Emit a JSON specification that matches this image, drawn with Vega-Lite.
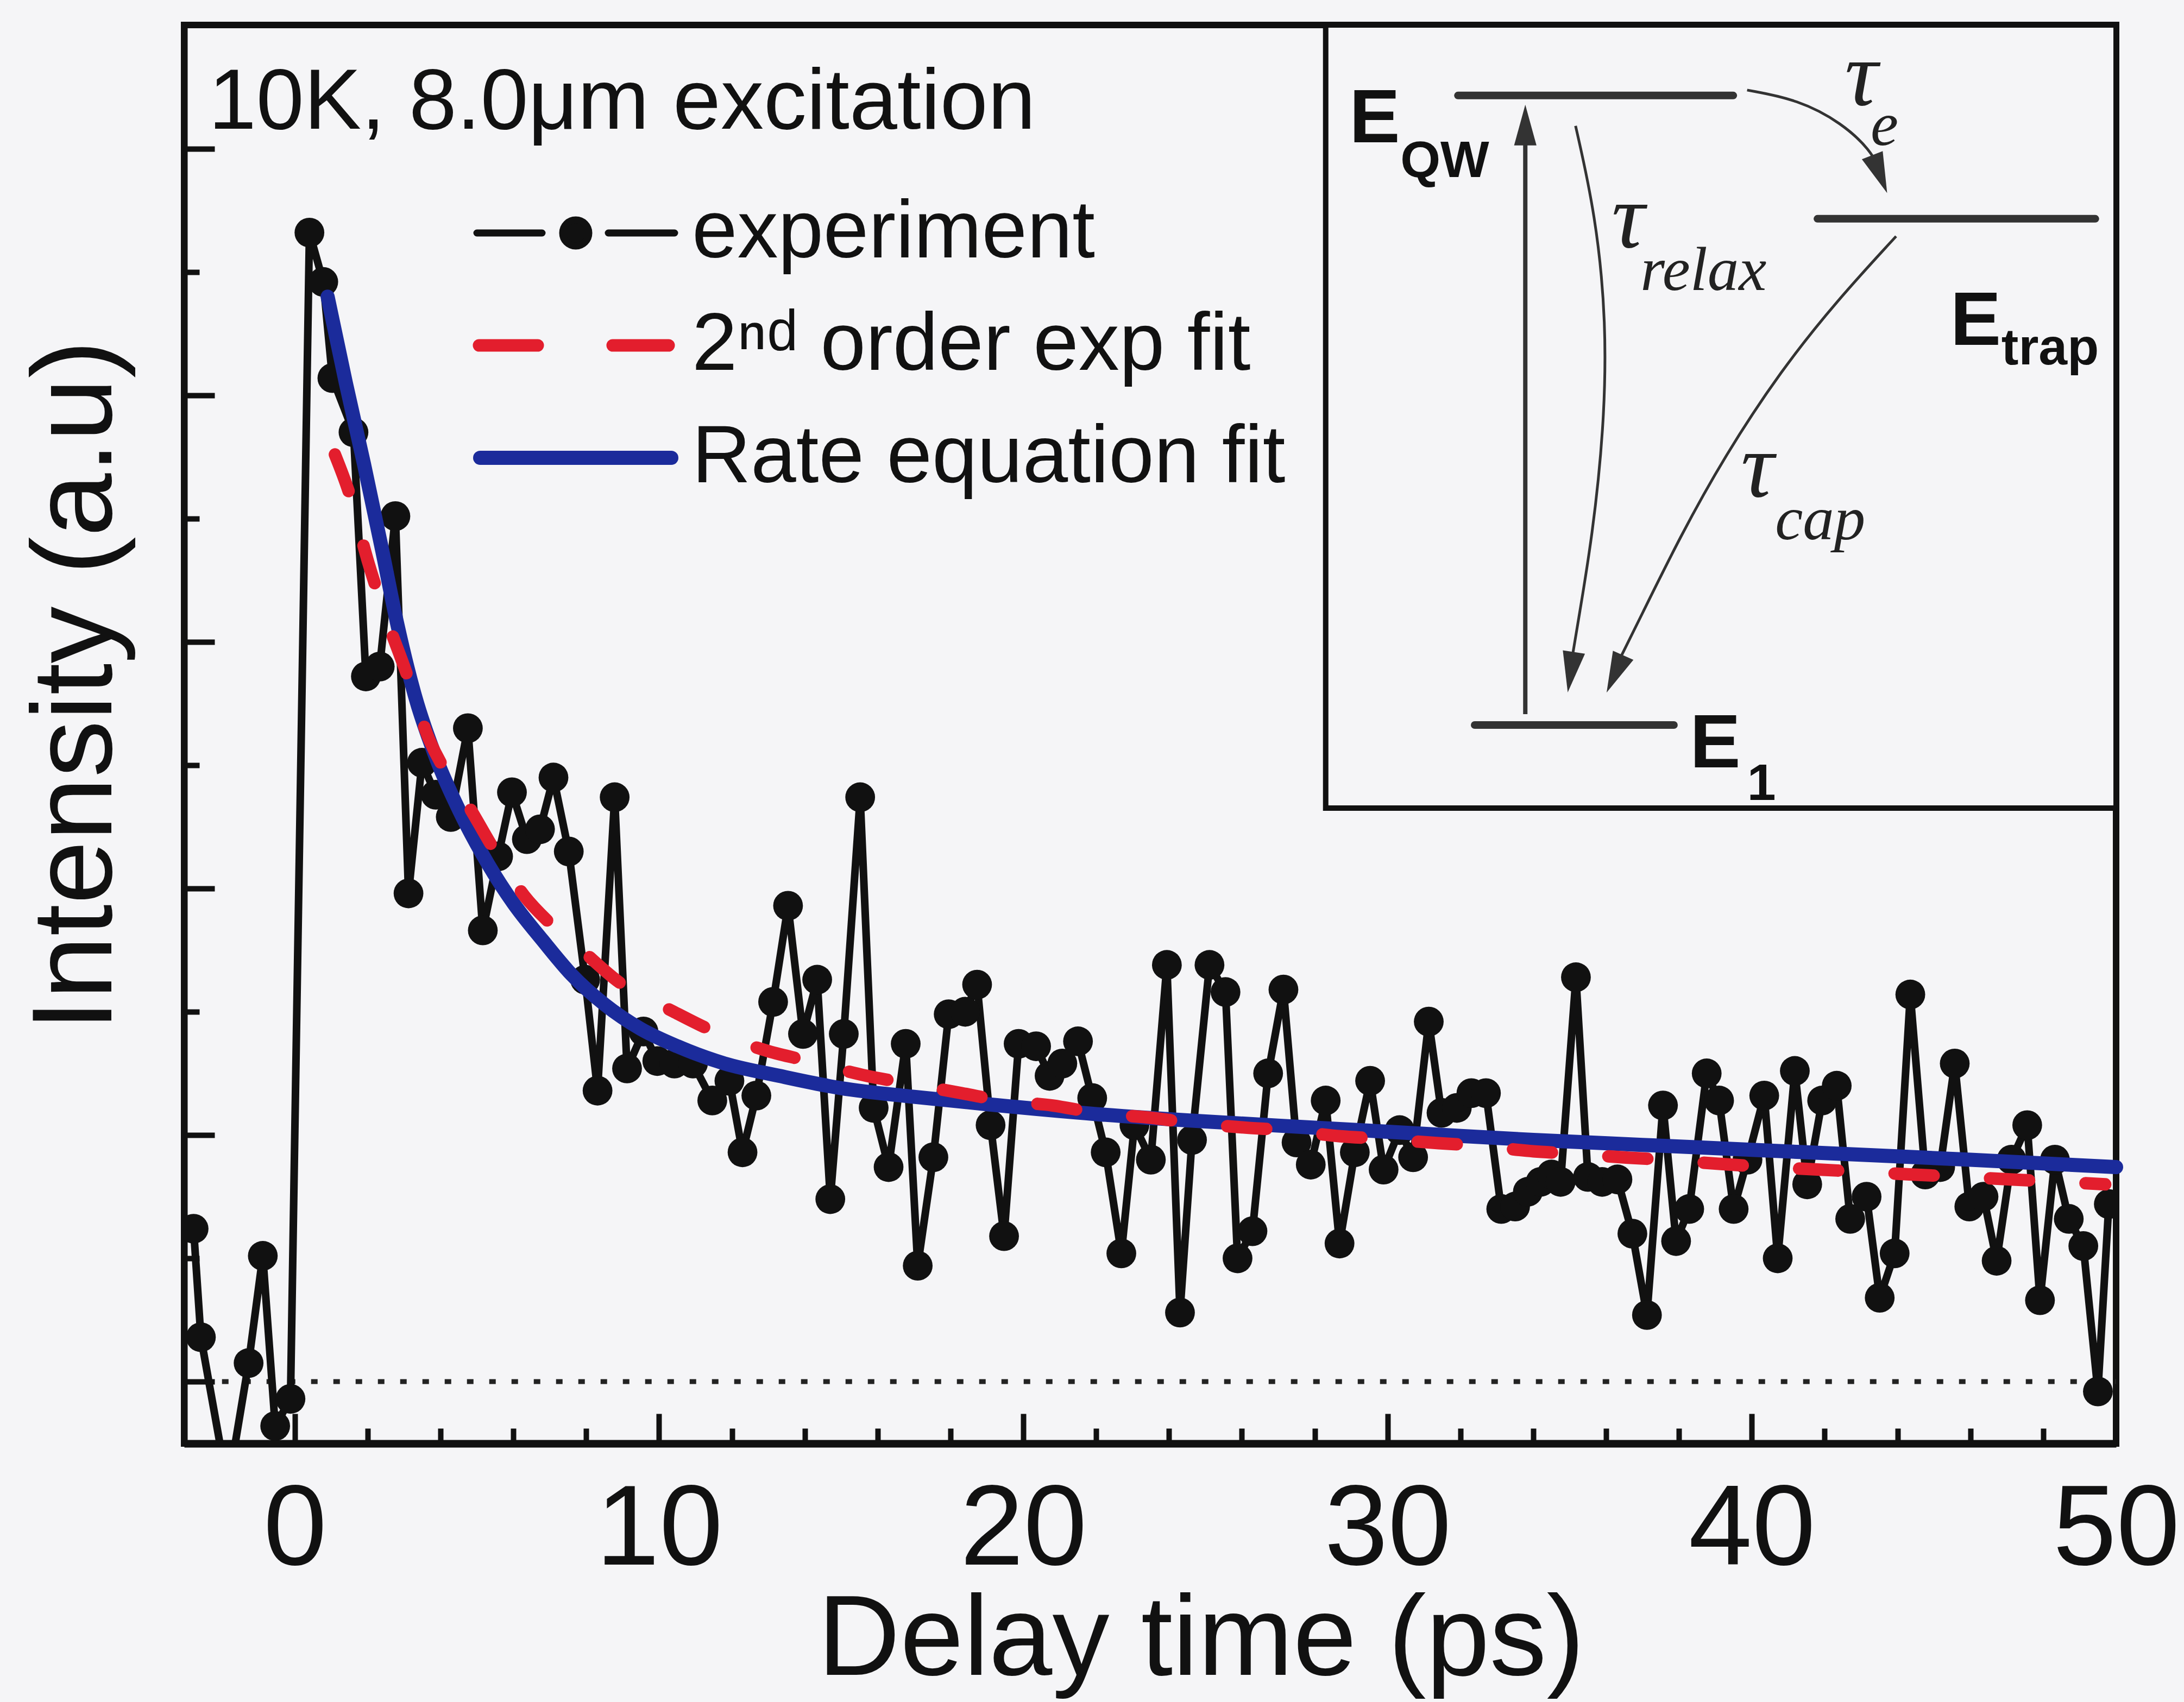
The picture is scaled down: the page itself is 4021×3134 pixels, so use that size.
{
  "$schema": "https://vega.github.io/schema/vega-lite/v6.json",
  "width": 3557,
  "height": 2612,
  "autosize": {"type": "none"},
  "padding": {"left": 339, "top": 46, "right": 125, "bottom": 476},
  "background": "#f5f5f7",
  "config": {
    "font": "Liberation Sans",
    "view": {"stroke": "#111111", "strokeWidth": 12},
    "axis": {"grid": false}
  },
  "title": {
    "text": "10K, 8.0μm excitation",
    "anchor": "start",
    "frame": "group",
    "orient": "top",
    "offset": -354,
    "dx": 45,
    "fontSize": 158,
    "fontWeight": "normal",
    "font": "Liberation Sans",
    "color": "#111111",
    "baseline": "alphabetic"
  },
  "datasets": {
    "exp": [
      {"t": -2.78, "v": 0.62}, {"t": -2.58, "v": 0.18}, {"t": -1.84, "v": -0.43}, {"t": -1.27, "v": 0.075}, {"t": -0.88, "v": 0.51}, {"t": -0.54, "v": -0.18}, {"t": -0.12, "v": -0.07},
      {"t": 0.40, "v": 4.66}, {"t": 0.78, "v": 4.46}, {"t": 1.03, "v": 4.07}, {"t": 1.61, "v": 3.85}, {"t": 1.95, "v": 2.86}, {"t": 2.33, "v": 2.90}, {"t": 2.76, "v": 3.51}, {"t": 3.12, "v": 1.98}, {"t": 3.49, "v": 2.51}, {"t": 3.87, "v": 2.38}, {"t": 4.28, "v": 2.29}, {"t": 4.75, "v": 2.65}, {"t": 5.16, "v": 1.83}, {"t": 5.58, "v": 2.13}, {"t": 5.96, "v": 2.39}, {"t": 6.37, "v": 2.20}, {"t": 6.73, "v": 2.24}, {"t": 7.10, "v": 2.45}, {"t": 7.52, "v": 2.15}, {"t": 7.97, "v": 1.63}, {"t": 8.31, "v": 1.18}, {"t": 8.78, "v": 2.37}, {"t": 9.12, "v": 1.27}, {"t": 9.57, "v": 1.42}, {"t": 9.95, "v": 1.30},
      {"t": 10.42, "v": 1.29}, {"t": 10.93, "v": 1.29}, {"t": 11.46, "v": 1.14}, {"t": 11.93, "v": 1.22}, {"t": 12.29, "v": 0.93}, {"t": 12.67, "v": 1.16}, {"t": 13.13, "v": 1.54}, {"t": 13.54, "v": 1.93}, {"t": 13.95, "v": 1.41}, {"t": 14.34, "v": 1.63}, {"t": 14.70, "v": 0.74}, {"t": 15.07, "v": 1.41}, {"t": 15.52, "v": 2.37}, {"t": 15.89, "v": 1.11}, {"t": 16.30, "v": 0.87}, {"t": 16.77, "v": 1.37}, {"t": 17.10, "v": 0.47}, {"t": 17.53, "v": 0.91}, {"t": 17.95, "v": 1.49}, {"t": 18.40, "v": 1.50}, {"t": 18.73, "v": 1.61}, {"t": 19.10, "v": 1.04}, {"t": 19.47, "v": 0.59}, {"t": 19.87, "v": 1.37},
      {"t": 20.35, "v": 1.36}, {"t": 20.72, "v": 1.24}, {"t": 21.07, "v": 1.29}, {"t": 21.50, "v": 1.38}, {"t": 21.89, "v": 1.15}, {"t": 22.26, "v": 0.93}, {"t": 22.69, "v": 0.52}, {"t": 23.05, "v": 1.04}, {"t": 23.50, "v": 0.90}, {"t": 23.94, "v": 1.69}, {"t": 24.30, "v": 0.28}, {"t": 24.63, "v": 0.98}, {"t": 25.11, "v": 1.69}, {"t": 25.55, "v": 1.58}, {"t": 25.88, "v": 0.50}, {"t": 26.29, "v": 0.61}, {"t": 26.72, "v": 1.25}, {"t": 27.14, "v": 1.59}, {"t": 27.50, "v": 0.97}, {"t": 27.89, "v": 0.88}, {"t": 28.30, "v": 1.14}, {"t": 28.68, "v": 0.56}, {"t": 29.10, "v": 0.93}, {"t": 29.52, "v": 1.22}, {"t": 29.89, "v": 0.86},
      {"t": 30.33, "v": 1.02}, {"t": 30.70, "v": 0.91}, {"t": 31.13, "v": 1.46}, {"t": 31.48, "v": 1.09}, {"t": 31.90, "v": 1.11}, {"t": 32.30, "v": 1.17}, {"t": 32.70, "v": 1.17}, {"t": 33.12, "v": 0.70}, {"t": 33.50, "v": 0.71}, {"t": 33.85, "v": 0.77}, {"t": 34.20, "v": 0.81}, {"t": 34.50, "v": 0.84}, {"t": 34.75, "v": 0.81}, {"t": 35.17, "v": 1.64}, {"t": 35.50, "v": 0.83}, {"t": 35.89, "v": 0.81}, {"t": 36.31, "v": 0.82}, {"t": 36.72, "v": 0.60}, {"t": 37.12, "v": 0.27}, {"t": 37.56, "v": 1.12}, {"t": 37.92, "v": 0.57}, {"t": 38.28, "v": 0.70}, {"t": 38.76, "v": 1.25}, {"t": 39.10, "v": 1.14}, {"t": 39.50, "v": 0.70}, {"t": 39.88, "v": 0.90},
      {"t": 40.34, "v": 1.16}, {"t": 40.71, "v": 0.50}, {"t": 41.18, "v": 1.26}, {"t": 41.52, "v": 0.80}, {"t": 41.93, "v": 1.14}, {"t": 42.33, "v": 1.20}, {"t": 42.70, "v": 0.66}, {"t": 43.15, "v": 0.75}, {"t": 43.51, "v": 0.34}, {"t": 43.92, "v": 0.52}, {"t": 44.35, "v": 1.57}, {"t": 44.76, "v": 0.84}, {"t": 45.17, "v": 0.87}, {"t": 45.57, "v": 1.29}, {"t": 45.97, "v": 0.71}, {"t": 46.36, "v": 0.75}, {"t": 46.72, "v": 0.49}, {"t": 47.13, "v": 0.90}, {"t": 47.56, "v": 1.04}, {"t": 47.91, "v": 0.33}, {"t": 48.32, "v": 0.90}, {"t": 48.70, "v": 0.66}, {"t": 49.10, "v": 0.55}, {"t": 49.50, "v": -0.04}, {"t": 49.80, "v": 0.72}
    ],
    "rate": [
      {"t": 0.9, "v": 4.4}, {"t": 1.4, "v": 4.05}, {"t": 1.9, "v": 3.72}, {"t": 2.4, "v": 3.37}, {"t": 2.8, "v": 3.08}, {"t": 3.3, "v": 2.78}, {"t": 3.9, "v": 2.52}, {"t": 4.5, "v": 2.32}, {"t": 5.3, "v": 2.1}, {"t": 6.0, "v": 1.94}, {"t": 6.8, "v": 1.79}, {"t": 7.6, "v": 1.65}, {"t": 8.5, "v": 1.53}, {"t": 9.5, "v": 1.43}, {"t": 10.5, "v": 1.36}, {"t": 11.8, "v": 1.29}, {"t": 13.3, "v": 1.24}, {"t": 15, "v": 1.19}, {"t": 17, "v": 1.155}, {"t": 19, "v": 1.125}, {"t": 22, "v": 1.085}, {"t": 25, "v": 1.055}, {"t": 28, "v": 1.03}, {"t": 31, "v": 1.005}, {"t": 34, "v": 0.98}, {"t": 37, "v": 0.96}, {"t": 40, "v": 0.94}, {"t": 43, "v": 0.92}, {"t": 46, "v": 0.9}, {"t": 50, "v": 0.87}
    ],
    "fit2": [
      {"t": 1.1, "v": 3.76}, {"t": 1.5, "v": 3.6}, {"t": 2.0, "v": 3.33}, {"t": 2.5, "v": 3.1}, {"t": 3.0, "v": 2.9}, {"t": 3.7, "v": 2.6}, {"t": 4.2, "v": 2.46}, {"t": 4.7, "v": 2.35}, {"t": 5.5, "v": 2.15}, {"t": 6.3, "v": 1.97}, {"t": 7.0, "v": 1.86}, {"t": 7.8, "v": 1.76}, {"t": 8.9, "v": 1.62}, {"t": 10.4, "v": 1.5}, {"t": 11.5, "v": 1.42}, {"t": 13.0, "v": 1.34}, {"t": 14.1, "v": 1.3}, {"t": 15.7, "v": 1.24}, {"t": 16.8, "v": 1.21}, {"t": 18.3, "v": 1.17}, {"t": 19.4, "v": 1.14}, {"t": 20.8, "v": 1.12}, {"t": 22, "v": 1.09}, {"t": 23.5, "v": 1.07}, {"t": 24.6, "v": 1.05}, {"t": 26.1, "v": 1.03}, {"t": 27.2, "v": 1.02}, {"t": 28.7, "v": 0.995}, {"t": 29.8, "v": 0.985}, {"t": 31.4, "v": 0.967}, {"t": 32.4, "v": 0.958}, {"t": 34, "v": 0.934}, {"t": 35, "v": 0.925}, {"t": 36.6, "v": 0.908}, {"t": 37.6, "v": 0.9}, {"t": 39.2, "v": 0.882}, {"t": 40.3, "v": 0.872}, {"t": 41.8, "v": 0.86}, {"t": 42.9, "v": 0.852}, {"t": 44.4, "v": 0.84}, {"t": 45.5, "v": 0.832}, {"t": 47.1, "v": 0.82}, {"t": 48.2, "v": 0.812}, {"t": 49.7, "v": 0.8}
    ],
    "baseline": [{"t": -2.0, "v": 0}, {"t": 50, "v": 0}],
    "insetBox": [{"t": 28.30, "t2": 50, "v": 2.326, "v2": 5.502}],
    "levels": [
      {"name": "EQW", "t": 31.93, "t2": 39.49, "v": 5.216},
      {"name": "Etrap", "t": 41.80, "t2": 49.43, "v": 4.716},
      {"name": "E1", "t": 32.39, "t2": 37.86, "v": 2.663}
    ],
    "shaft": [{"t": 33.78, "v": 2.707, "v2": 5.05}],
    "curves": [
      {"path": "relax", "i": 0, "t": 35.16, "v": 5.093}, {"path": "relax", "i": 1, "t": 35.71, "v": 4.733}, {"path": "relax", "i": 2, "t": 36.01, "v": 4.297}, {"path": "relax", "i": 3, "t": 35.94, "v": 3.861}, {"path": "relax", "i": 4, "t": 35.62, "v": 3.427}, {"path": "relax", "i": 5, "t": 35.25, "v": 3.099}, {"path": "relax", "i": 6, "t": 35.06, "v": 2.93},
      {"path": "cap", "i": 0, "t": 43.96, "v": 4.645}, {"path": "cap", "i": 1, "t": 42.33, "v": 4.383}, {"path": "cap", "i": 2, "t": 40.80, "v": 4.101}, {"path": "cap", "i": 3, "t": 39.25, "v": 3.753}, {"path": "cap", "i": 4, "t": 38.03, "v": 3.427}, {"path": "cap", "i": 5, "t": 36.94, "v": 3.099}, {"path": "cap", "i": 6, "t": 36.27, "v": 2.90},
      {"path": "te", "i": 0, "t": 39.87, "v": 5.238}, {"path": "te", "i": 1, "t": 41.26, "v": 5.200}, {"path": "te", "i": 2, "t": 42.48, "v": 5.104}, {"path": "te", "i": 3, "t": 43.26, "v": 4.993}, {"path": "te", "i": 4, "t": 43.50, "v": 4.92}
    ],
    "heads": [
      {"name": "up", "t": 33.78, "v": 5.096},
      {"name": "relax", "t": 35.03, "v": 2.877},
      {"name": "cap", "t": 36.24, "v": 2.870},
      {"name": "te", "t": 43.51, "v": 4.897}
    ],
    "bigE": [
      {"s": "E", "t": 28.95, "v": 5.026},
      {"s": "E", "t": 45.45, "v": 4.205},
      {"s": "E", "t": 38.30, "v": 2.491}
    ],
    "subE": [
      {"s": "QW", "t": 30.35, "v": 4.885},
      {"s": "trap", "t": 46.85, "v": 4.125},
      {"s": "1", "t": 39.87, "v": 2.359}
    ],
    "tau": [
      {"s": "τ", "t": 42.55, "v": 5.179},
      {"s": "τ", "t": 36.15, "v": 4.601},
      {"s": "τ", "t": 39.70, "v": 3.590}
    ],
    "subTau": [
      {"s": "e", "t": 43.26, "v": 5.015},
      {"s": "relax", "t": 36.94, "v": 4.427},
      {"s": "cap", "t": 40.64, "v": 3.416}
    ]
  },
  "encoding": {
    "x": {
      "field": "t",
      "type": "quantitative",
      "scale": {"domain": [-3.04, 50], "nice": false, "zero": false},
      "axis": {
        "values": [0, 2, 4, 6, 8, 10, 12, 14, 16, 18, 20, 22, 24, 26, 28, 30, 32, 34, 36, 38, 40, 42, 44, 46, 48, 50],
        "labelExpr": "datum.value % 10 === 0 ? datum.label : ''",
        "tickSize": {"condition": {"test": "datum.value % 10 === 0", "value": -55}, "value": -28},
        "tickWidth": 10,
        "tickColor": "#111111",
        "domainColor": "#111111",
        "domainWidth": 14,
        "labelFont": "Liberation Sans",
        "labelFontSize": 210,
        "labelColor": "#111111",
        "labelBaseline": "alphabetic",
        "labelPadding": 277,
        "labelFlush": false,
        "labelOverlap": false,
        "labelLimit": 2000,
        "title": "Delay time (ps)",
        "titleFont": "Liberation Sans",
        "titleFontSize": 210,
        "titleFontWeight": "normal",
        "titleColor": "#111111",
        "titleX": 1872,
        "titleY": 425,
        "titleAlign": "center",
        "titleBaseline": "alphabetic",
        "titleLimit": 4000
      }
    },
    "y": {
      "field": "v",
      "type": "quantitative",
      "scale": {"domain": [-0.251, 5.502], "nice": false, "zero": false},
      "axis": {
        "values": [0, 0.5, 1, 1.5, 2, 2.5, 3, 3.5, 4, 4.5, 5],
        "labels": false,
        "tickSize": {"condition": {"test": "datum.value % 1 === 0", "value": -56}, "value": -28},
        "tickWidth": 10,
        "tickColor": "#111111",
        "domainColor": "#111111",
        "domainWidth": 12,
        "title": "Intensity (a.u)",
        "titleFont": "Liberation Sans",
        "titleFontSize": 210,
        "titleFontWeight": "normal",
        "titleColor": "#111111",
        "titleX": -198,
        "titleY": 1216,
        "titleAlign": "center",
        "titleBaseline": "middle",
        "titleAngle": 270,
        "titleLimit": 4000
      }
    }
  },
  "layer": [
    {
      "data": {"name": "baseline"},
      "mark": {"type": "line", "stroke": "#222222", "strokeWidth": 9, "strokeDash": [12, 29]}
    },
    {
      "data": {"name": "exp"},
      "mark": {"type": "line", "strokeWidth": 14, "clip": true},
      "encoding": {
        "color": {
          "datum": "experiment",
          "type": "nominal",
          "scale": {"domain": ["experiment", "2ⁿᵈ order exp fit", "Rate equation fit"], "range": ["#111111", "#e31e2d", "#1b2b9b"]},
          "legend": {
            "orient": "none",
            "legendX": 646,
            "legendY": 308,
            "title": null,
            "padding": 0,
            "symbolSize": 1600,
            "labelFont": "Liberation Sans",
            "labelFontSize": 150,
            "labelColor": "#111111",
            "labelOffset": 139,
            "labelLimit": 3000,
            "rowPadding": 57,
            "encode": {
              "symbols": {
                "update": {
                  "shape": {"signal": "datum.value === 'experiment' ? 'M-9.1,0L-3.1,0M3,0L9.1,0M-1.2,0A1.2,1.2,0,1,1,1.2,0A1.2,1.2,0,1,1,-1.2,0Z' : datum.value === 'Rate equation fit' ? 'M-8.8,0L8.8,0' : 'M-8.9,0L-3.5,0M3.4,0L8.55,0'"},
                  "fill": {"signal": "datum.value === 'experiment' ? '#111111' : 'transparent'"},
                  "stroke": {"signal": "datum.value === 'experiment' ? '#111111' : datum.value === 'Rate equation fit' ? '#1b2b9b' : '#e31e2d'"},
                  "strokeWidth": {"signal": "datum.value === 'experiment' ? 13 : datum.value === 'Rate equation fit' ? 26 : 23"},
                  "strokeCap": {"value": "round"},
                  "opacity": {"value": 1}
                }
              }
            }
          }
        }
      }
    },
    {
      "data": {"name": "exp"},
      "mark": {"type": "point", "filled": true, "size": 3000, "color": "#111111", "opacity": 1, "clip": true}
    },
    {
      "data": {"name": "rate"},
      "mark": {"type": "line", "stroke": "#1b2b9b", "strokeWidth": 26, "strokeCap": "round", "interpolate": "monotone"}
    },
    {
      "data": {"name": "fit2"},
      "mark": {"type": "line", "stroke": "#e31e2d", "strokeWidth": 23, "strokeCap": "round", "strokeDash": [72, 104], "interpolate": "monotone"}
    },
    {
      "data": {"name": "insetBox"},
      "mark": {"type": "rect", "fill": "#f5f5f7", "stroke": "#111111", "strokeWidth": 10},
      "encoding": {"x2": {"field": "t2"}, "y2": {"field": "v2"}}
    },
    {
      "data": {"name": "levels"},
      "mark": {"type": "rule", "stroke": "#333333", "strokeWidth": 14, "strokeCap": "round"},
      "encoding": {"x2": {"field": "t2"}}
    },
    {
      "data": {"name": "shaft"},
      "mark": {"type": "rule", "stroke": "#333333", "strokeWidth": 8},
      "encoding": {"y2": {"field": "v2"}}
    },
    {
      "data": {"name": "curves"},
      "mark": {"type": "line", "stroke": "#333333", "strokeWidth": 5, "interpolate": "basis"},
      "encoding": {"detail": {"field": "path"}, "order": {"field": "i"}}
    },
    {
      "data": {"name": "heads"},
      "transform": [{"filter": "datum.name === 'up'"}],
      "mark": {"type": "point", "shape": "M0,-1L0.55,1L-0.55,1Z", "size": 5625, "filled": true, "color": "#333333", "opacity": 1, "angle": 0}
    },
    {
      "data": {"name": "heads"},
      "transform": [{"filter": "datum.name === 'relax'"}],
      "mark": {"type": "point", "shape": "M0,-1L0.55,1L-0.55,1Z", "size": 5625, "filled": true, "color": "#333333", "opacity": 1, "angle": 188.7}
    },
    {
      "data": {"name": "heads"},
      "transform": [{"filter": "datum.name === 'cap'"}],
      "mark": {"type": "point", "shape": "M0,-1L0.55,1L-0.55,1Z", "size": 5625, "filled": true, "color": "#333333", "opacity": 1, "angle": 204}
    },
    {
      "data": {"name": "heads"},
      "transform": [{"filter": "datum.name === 'te'"}],
      "mark": {"type": "point", "shape": "M0,-1L0.55,1L-0.55,1Z", "size": 5625, "filled": true, "color": "#333333", "opacity": 1, "angle": 158.6}
    },
    {
      "data": {"name": "bigE"},
      "mark": {"type": "text", "font": "Liberation Sans", "fontWeight": "bold", "fontSize": 140, "align": "left", "baseline": "alphabetic", "color": "#111111"},
      "encoding": {"text": {"field": "s"}}
    },
    {
      "data": {"name": "subE"},
      "mark": {"type": "text", "font": "Liberation Sans", "fontWeight": "bold", "fontSize": 95, "align": "left", "baseline": "alphabetic", "color": "#111111"},
      "encoding": {"text": {"field": "s"}}
    },
    {
      "data": {"name": "tau"},
      "mark": {"type": "text", "font": "Liberation Serif", "fontStyle": "italic", "fontSize": 170, "align": "left", "baseline": "alphabetic", "color": "#222222"},
      "encoding": {"text": {"field": "s"}}
    },
    {
      "data": {"name": "subTau"},
      "mark": {"type": "text", "font": "Liberation Serif", "fontStyle": "italic", "fontSize": 115, "align": "left", "baseline": "alphabetic", "color": "#222222"},
      "encoding": {"text": {"field": "s"}}
    }
  ]
}
